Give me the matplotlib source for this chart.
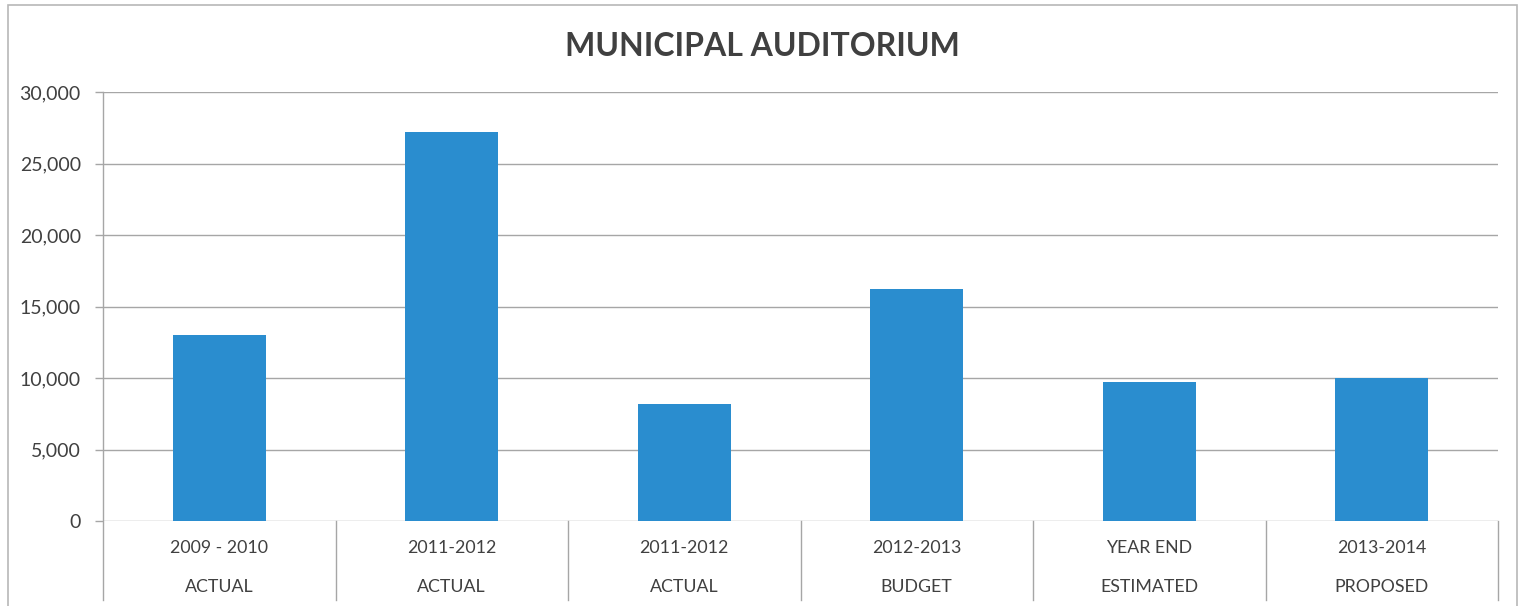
import matplotlib.pyplot as plt
from matplotlib.patches import Rectangle
from matplotlib.ticker import FuncFormatter

# Attendance figures by period
years = ["2009 - 2010", "2011-2012", "2011-2012", "2012-2013", "YEAR END", "2013-2014"]
kinds = ["ACTUAL", "ACTUAL", "ACTUAL", "BUDGET", "ESTIMATED", "PROPOSED"]
values = [13000, 27200, 8200, 16200, 9700, 10000]
yticks = [0, 5000, 10000, 15000, 20000, 25000, 30000]

bar_color = "#2A8DCF"
text_color = "#404040"
line_color = "#A6A6A6"

plt.rcParams["font.family"] = ["Lato", "DejaVu Sans"]

fig = plt.figure(figsize=(15.19, 6.06), dpi=100)
ax = fig.add_axes([103 / 1519, 1 - 521 / 606, (1498 - 103) / 1519, (521 - 92) / 606])

x = list(range(len(values)))
ax.bar(x, values, width=0.4, color=bar_color, zorder=3)

ax.set_xlim(-0.5, len(values) - 0.5)
ax.set_ylim(0, 30000)
ax.set_yticks(yticks)
ax.yaxis.set_major_formatter(FuncFormatter(lambda v, p: f"{int(v):,}"))
ax.tick_params(axis="y", length=6, width=1, color=line_color, labelsize=14,
               labelcolor=text_color, pad=10)
ax.set_xticks([])
ax.grid(axis="y", color=line_color, linewidth=1, zorder=0)
for s in ["top", "right", "bottom", "left"]:
    ax.spines[s].set_visible(False)

# category table below the axis
trans = ax.get_xaxis_transform()
drop = -(600 - 521) / (521 - 92)
for i in range(len(values) + 1):
    ax.plot([i - 0.5, i - 0.5], [0 if i else 1, drop], transform=trans,
            color=line_color, linewidth=1, clip_on=False, zorder=1)
for i, (yr, kd) in enumerate(zip(years, kinds)):
    ax.text(i, -(548 - 521) / (521 - 92), yr, transform=trans, ha="center",
            va="center", fontsize=12.8, color=text_color)
    ax.text(i, -(587 - 521) / (521 - 92), kd, transform=trans, ha="center",
            va="center", fontsize=12.8, color=text_color)

fig.text(762 / 1519, 1 - 46 / 606, "MUNICIPAL AUDITORIUM", ha="center", va="center",
         fontsize=23, fontweight="bold", color=text_color)

# chart frame
fig.patches.append(Rectangle((8 / 1519, -0.05), (1517 - 8) / 1519, 1.05 - 5 / 606,
                             transform=fig.transFigure, fill=False,
                             edgecolor="#B8B8B8", linewidth=1.2))

fig.savefig("out.png", dpi=100)
